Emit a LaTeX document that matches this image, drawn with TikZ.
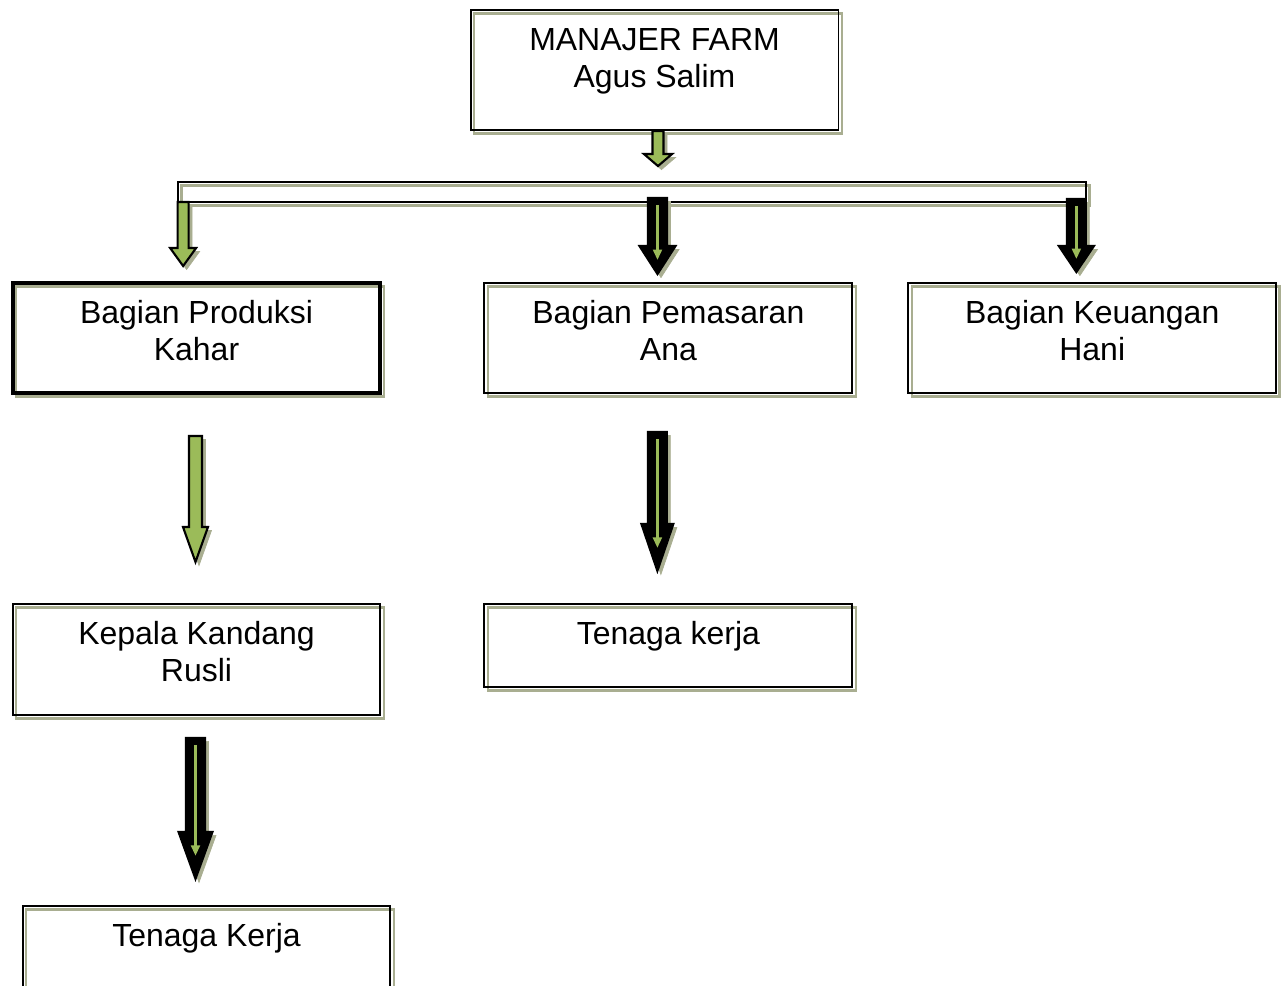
\documentclass[tikz,border=0pt]{standalone}
\usepackage{fontspec}
\setmainfont{Liberation Sans}
\usetikzlibrary{positioning,arrows.meta,calc}
\definecolor{orggreen}{HTML}{9BBB59}
\definecolor{orgshade}{HTML}{A9AE91}
\newdimen\pxu \pxu=0.02cm
\newcommand{\boxtext}[2]{\parbox[c][#1][t]{7.36cm}{\centering\rule{0pt}{23.3pt}#2}}
% block arrow: style, from, to, half shaft, half head, head length (px)
\newcommand{\blockarrow}[6]{%
  \path[#1] let \p1=(#2), \p2=(#3) in
    (\x1-#4*\pxu,\y1) -- (\x1-#4*\pxu,\y2+#6*\pxu) -- (\x1-#5*\pxu,\y2+#6*\pxu)
    -- (\x1,\y2) -- (\x1+#5*\pxu,\y2+#6*\pxu) -- (\x1+#4*\pxu,\y2+#6*\pxu)
    -- (\x1+#4*\pxu,\y1) -- cycle;}
% thin green arrow inside a dark one
\newcommand{\innerarrow}[3]{%
  \draw[innerline] let \p1=(#1), \p2=(#2) in
    (\x1,\y1-7*\pxu) -- (\x1,\y2+#3*\pxu);}
\tikzset{
    orgbox/.style={draw,line width=1.1pt,inner sep=0pt,font=\fontsize{18.2}{20.8}\selectfont,
        preaction={draw=orgshade,line width=1.4pt,transform canvas={shift={(0.07cm,-0.07cm)}}}},
    garrow/.style={draw=black,line width=1.2pt,fill=orggreen,
        preaction={draw=orgshade,fill=orgshade,transform canvas={shift={(0.07cm,-0.07cm)}}}},
    karrow/.style={draw=black,line width=1.2pt,fill=black,
        preaction={draw=orgshade,fill=orgshade,transform canvas={shift={(0.07cm,-0.07cm)}}}},
    innerline/.style={draw=orggreen,line width=1.7pt,-{Triangle[length=6pt,width=5pt]}},
}
\begin{document}
\begin{tikzpicture}[x=0.02cm,y=-0.02cm]
    \useasboundingbox (0,0) rectangle (1286,985);

    \node[orgbox] (boss) at (654.5,70) {\boxtext{2.4cm}{MANAJER FARM\\Agus Salim}};
    \node[orgbox,minimum width=18.16cm,minimum height=0.4cm] (bar) at (632,192) {};
    \node[orgbox,line width=2.3pt] (prod) at (196.5,338) {\boxtext{2.2cm}{Bagian Produksi\\Kahar}};
    \node[orgbox,right=2.02cm of prod] (pemas) {\boxtext{2.2cm}{Bagian Pemasaran\\Ana}};
    \node[orgbox,right=1.08cm of pemas] (keu) {\boxtext{2.2cm}{Bagian Keuangan\\Hani}};
    \node[orgbox,below=4.16cm of prod] (kepala) {\boxtext{2.22cm}{Kepala Kandang\\Rusli}};
    \node[orgbox,below=4.18cm of pemas] (tkerja) {\boxtext{1.66cm}{Tenaga kerja}};
    \node[orgbox,below=3.78cm of kepala,xshift=0.2cm] (tkerjab) {\boxtext{2.2cm}{Tenaga Kerja}};

    \blockarrow{garrow}{$(boss.south)+(3.5,0)$}{$(bar.north)+(0,-15)$}{5.5}{14}{12}
    \blockarrow{garrow}{$(bar.south west)+(6,-1)$}{$(prod.north)+(0,-15)$}{5.5}{13}{18}
    \blockarrow{karrow}{$(bar.south)+(25.5,-5)$}{$(pemas.north)+(0,-8)$}{9.5}{18}{28}
    \innerarrow{$(bar.south)+(25.5,-5)$}{$(pemas.north)+(0,-8)$}{14}
    \blockarrow{karrow}{$(bar.south east)+(-10.5,-4)$}{$(keu.north)+(0,-10)$}{9.5}{17.5}{26}
    \innerarrow{$(bar.south east)+(-10.5,-4)$}{$(keu.north)+(0,-10)$}{13}
    \blockarrow{garrow}{$(prod.south)+(-1,41)$}{$(kepala.north)+(0,-41)$}{6.5}{12.5}{35}
    \blockarrow{karrow}{$(pemas.south)+(-11,38)$}{$(tkerja.north)+(0,-32)$}{9.5}{16}{47}
    \innerarrow{$(pemas.south)+(-11,38)$}{$(tkerja.north)+(0,-32)$}{23}
    \blockarrow{karrow}{$(kepala.south)+(-1,22)$}{$(tkerjab.north)+(0,-26)$}{9.5}{17}{47}
    \innerarrow{$(kepala.south)+(-1,22)$}{$(tkerjab.north)+(0,-26)$}{23}
\end{tikzpicture}
\end{document}
